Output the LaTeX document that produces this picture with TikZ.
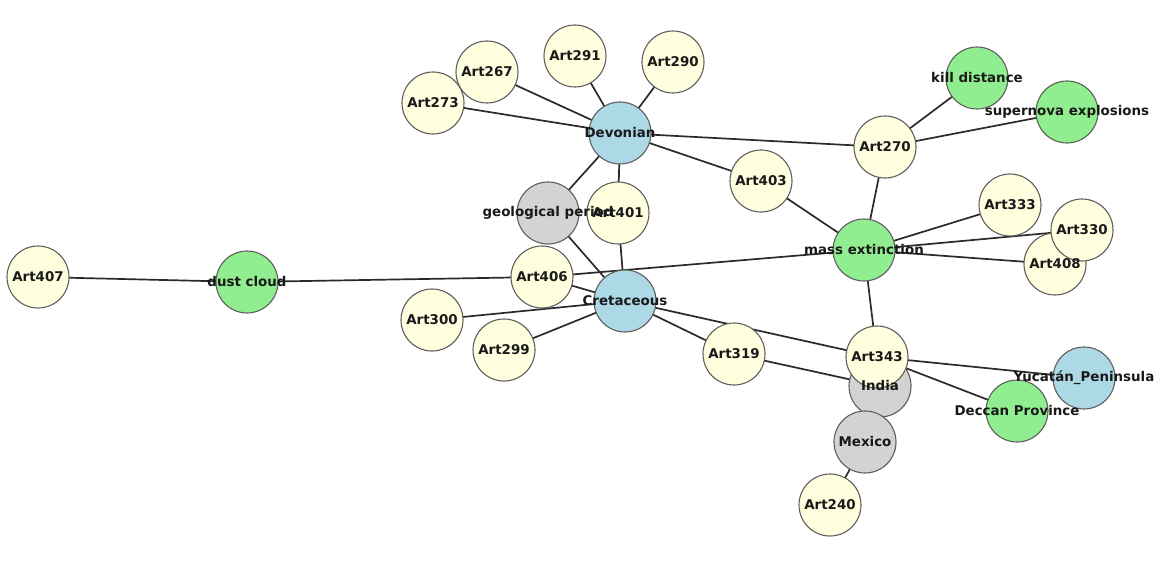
\documentclass[tikz,border=0pt]{standalone}
\usepackage{fontspec}
\setmainfont{DejaVu Sans}
\pgfdeclarelayer{bg}
\pgfsetlayers{bg,main}
\definecolor{nyellow}{HTML}{FFFFE0}
\definecolor{nblue}{HTML}{ADD8E6}
\definecolor{ngreen}{HTML}{90EE90}
\definecolor{ngrey}{HTML}{D3D3D3}
\definecolor{edgec}{HTML}{2A2A2A}
\definecolor{borderc}{HTML}{5E5E5E}
\tikzset{
  vtx/.style={circle, draw=borderc, line width=1.1pt, minimum size=62pt, inner sep=0pt},
  art/.style={vtx, fill=nyellow},
  per/.style={vtx, fill=nblue},
  con/.style={vtx, fill=ngreen},
  plc/.style={vtx, fill=ngrey},
  lbl/.style={inner sep=0pt, font=\fontsize{13.4}{13.4}\selectfont\bfseries, text=black!90},
  edge/.style={draw=edgec, line width=1.7pt}
}
\begin{document}
\begin{tikzpicture}[x=1pt,y=-1pt]
\useasboundingbox (0,0) rectangle (1164,564);
% nodes
\node[art] (a407) at (38,277) {};
\node[con] (dust) at (247,282) {};
\node[art] (a273) at (433,103) {};
\node[art] (a267) at (487,72) {};
\node[art] (a291) at (575,56) {};
\node[art] (a290) at (673,62) {};
\node[per] (dev) at (620,133) {};
\node[plc] (geo) at (548,213) {};
\node[art] (a401) at (618,213) {};
\node[art] (a406) at (542,277) {};
\node[per] (cre) at (625,301) {};
\node[art] (a300) at (432,320) {};
\node[art] (a299) at (504,350) {};
\node[art] (a319) at (734,354) {};
\node[art] (a403) at (761,181) {};
\node[art] (a270) at (885,147) {};
\node[con] (kill) at (977,78) {};
\node[con] (sup) at (1067,112) {};
\node[con] (mass) at (864,250) {};
\node[art] (a333) at (1010,205) {};
\node[art] (a408) at (1055,264) {};
\node[art] (a330) at (1082,230) {};
\node[plc] (ind) at (880,386) {};
\node[art] (a343) at (877,357) {};
\node[plc] (mex) at (865,442) {};
\node[art] (a240) at (830,505) {};
\node[per] (yuc) at (1084,378) {};
\node[con] (dec) at (1017,411) {};
% labels
\node[lbl] at (a407) {Art407};
\node[lbl] at (dust) {dust cloud};
\node[lbl] at (a273) {Art273};
\node[lbl] at (a267) {Art267};
\node[lbl] at (a291) {Art291};
\node[lbl] at (a290) {Art290};
\node[lbl] at (dev) {Devonian};
\node[lbl] at (a401) {Art401};
\node[lbl] at (geo) {geological period};
\node[lbl] at (a406) {Art406};
\node[lbl] at (cre) {Cretaceous};
\node[lbl] at (a300) {Art300};
\node[lbl] at (a299) {Art299};
\node[lbl] at (a319) {Art319};
\node[lbl] at (a403) {Art403};
\node[lbl] at (a270) {Art270};
\node[lbl] at (kill) {kill distance};
\node[lbl] at (sup) {supernova explosions};
\node[lbl] at (mass) {mass extinction};
\node[lbl] at (a333) {Art333};
\node[lbl] at (a408) {Art408};
\node[lbl] at (a330) {Art330};
\node[lbl] at (ind) {India};
\node[lbl] at (a343) {Art343};
\node[lbl] at (mex) {Mexico};
\node[lbl] at (a240) {Art240};
\node[lbl] at (yuc) {Yucatán\_Peninsula};
\node[lbl] at (dec) {Deccan Province};
% edges
\begin{pgfonlayer}{bg}
\draw[edge] (a407.center) -- (dust.center);
\draw[edge] (dust.center) -- (a406.center);
\draw[edge] (a406.center) -- (mass.center);
\draw[edge] (a406.center) -- (cre.center);
\draw[edge] (geo.center) -- (cre.center);
\draw[edge] (geo.center) -- (dev.center);
\draw[edge] (dev.center) -- (a401.center);
\draw[edge] (a401.center) -- (cre.center);
\draw[edge] (cre.center) -- (a300.center);
\draw[edge] (cre.center) -- (a299.center);
\draw[edge] (cre.center) -- (a319.center);
\draw[edge] (cre.center) -- (a343.center);
\draw[edge] (a319.center) -- (ind.center);
\draw[edge] (dev.center) -- (a273.center);
\draw[edge] (dev.center) -- (a267.center);
\draw[edge] (dev.center) -- (a291.center);
\draw[edge] (dev.center) -- (a290.center);
\draw[edge] (dev.center) -- (a270.center);
\draw[edge] (dev.center) -- (a403.center);
\draw[edge] (a403.center) -- (mass.center);
\draw[edge] (a270.center) -- (mass.center);
\draw[edge] (a270.center) -- (kill.center);
\draw[edge] (a270.center) -- (sup.center);
\draw[edge] (mass.center) -- (a333.center);
\draw[edge] (mass.center) -- (a330.center);
\draw[edge] (mass.center) -- (a408.center);
\draw[edge] (mass.center) -- (a343.center);
\draw[edge] (a343.center) -- (yuc.center);
\draw[edge] (a343.center) -- (dec.center);
\draw[edge] (mex.center) -- (a240.center);
\end{pgfonlayer}
\end{tikzpicture}
\end{document}
